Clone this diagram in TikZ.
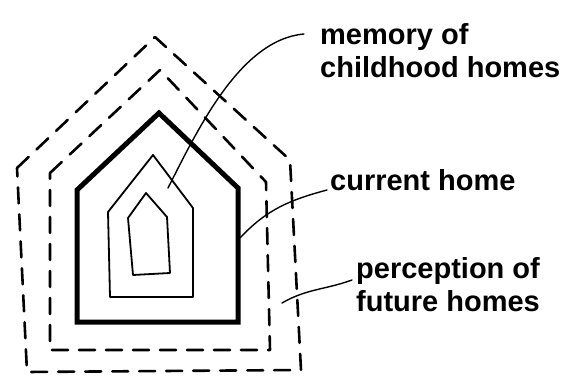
\documentclass[tikz,border=0pt]{standalone}
\usepackage{fontspec}
\setmainfont{Liberation Sans}
\begin{document}
\begin{tikzpicture}[x=1pt,y=1pt,line join=round,line cap=round,
    every node/.style={font=\bfseries\fontsize{29}{33}\selectfont,align=left,inner sep=0pt,anchor=west},
    future/.style={dash pattern=on 16pt off 11pt,line width=2.6pt},
    leader/.style={line width=1.4pt}]
  \useasboundingbox (0,0) rectangle (579,-385);
  % houses, outermost first
  \draw[future] (17,-168) -- (155,-37) -- (290,-160) -- (301,-370) -- (27,-372) -- cycle;
  \draw[future] (50,-173) -- (160,-70) -- (266,-182) -- (270,-350) -- (50,-350) -- cycle;
  \draw[line width=5pt,line join=miter] (77,-190) -- (159,-113) -- (238,-188) -- (238,-322) -- (77,-322) -- cycle;
  \draw[line width=1.8pt] (108,-212) -- (153,-155) -- (193,-208) -- (193,-297) -- (110,-297) -- cycle;
  \draw[line width=1.8pt] (128,-218) -- (146,-193) -- (167,-217) -- (170,-273) -- (133,-275) -- cycle;
  % labels
  \node (memory) at (320,-51) {memory of\\childhood homes};
  \node (current) at (330,-180) {current home};
  \node (perception) at (356,-285) {perception of\\future homes};
  \coordinate (m0) at (168,-188);
  \coordinate (c0) at (240,-238);
  \coordinate (p0) at (282,-303);
  \draw[leader] (m0) to[out=63,in=185,looseness=0.8] ([shift={(-16pt,17pt)}]memory.west);
  \draw[leader] (c0) to[out=47,in=195] ([shift={(-3pt,-10pt)}]current.west);
  \draw[leader] (p0) to[out=30,in=200] ([shift={(-4pt,5pt)}]perception.west);
\end{tikzpicture}
\end{document}
